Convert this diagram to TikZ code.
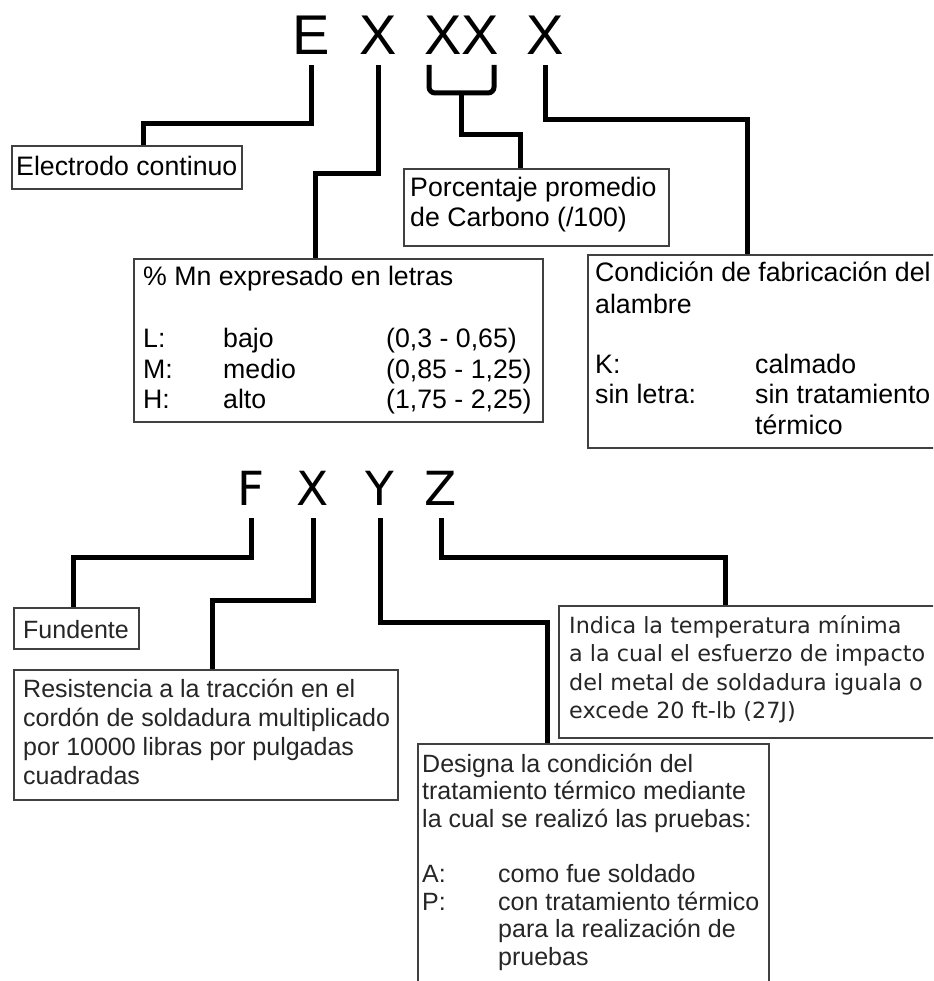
\documentclass[tikz,border=0pt]{standalone}
\usepackage{fontspec}
\setmainfont{Liberation Sans}
\newfontfamily\dejavu{DejaVu Sans}
\usetikzlibrary{calc}
\begin{document}
\begin{tikzpicture}[x=1pt,y=-1pt,
  conn/.style={line width=5pt, line join=miter, line cap=butt},
  box/.style={draw=black!75, line width=1.8pt, rectangle, inner sep=0pt, anchor=north west},
  codeA/.style={inner sep=0pt, anchor=base, font=\fontsize{56}{60}\selectfont},
  codeB/.style={inner sep=0pt, anchor=base, font=\dejavu\fontsize{47}{50}\selectfont},
  txtA/.style={inner sep=0pt, anchor=base west, font=\fontsize{26.7}{30.7}\selectfont},
  txtB/.style={inner sep=0pt, anchor=base west, text=black!85, font=\fontsize{25}{29}\selectfont},
  txtC/.style={inner sep=0pt, anchor=base west, text=black!85, font=\dejavu\fontsize{22.3}{28.5}\selectfont}
]
\clip (0,0) rectangle (933,981);
\fill[white] (0,0) rectangle (933,981);

% ---------- electrode designation E X XX X ----------
\node[codeA] (E)  at (311,55)   {E};
\node[codeA] (X1) at (378,55)   {X};
\node[codeA] (XX) at (461.5,55) {XX};
\node[codeA] (X3) at (545.5,55) {X};

\node[box, minimum width=230pt, minimum height=43pt]  (elec) at (11,145)  {};
\node[box, minimum width=265pt, minimum height=77pt]  (porc) at (403,168) {};
\node[box, minimum width=409pt, minimum height=163pt] (mn)   at (133,258) {};
\node[box, minimum width=363pt, minimum height=193pt] (cond) at (587,254) {};

\node[txtA] (elecT) at (16,176) {Electrodo continuo};

\node[txtA] (porc1) at (410,197) {Porcentaje promedio};
\node[txtA] (porc2) at (410,227) {de Carbono (/100)};

\node[txtA] (mnT) at (143,285) {\% Mn expresado en letras};
\node[txtA] (mnL1) at (143,347) {L:};
\node[txtA] (mnL2) at (223,347) {bajo};
\node[txtA] (mnL3) at (386,347) {(0,3 - 0,65)};
\node[txtA] (mnM1) at (143,378) {M:};
\node[txtA] (mnM2) at (223,378) {medio};
\node[txtA] (mnM3) at (386,378) {(0,85 - 1,25)};
\node[txtA] (mnH1) at (143,408) {H:};
\node[txtA] (mnH2) at (223,408) {alto};
\node[txtA] (mnH3) at (386,408) {(1,75 - 2,25)};

\node[txtA] (condT1) at (595,282) {Condición de fabricación del};
\node[txtA] (condT2) at (595,313) {alambre};
\node[txtA] (condK1) at (595,373) {K:};
\node[txtA] (condK2) at (755,373) {calmado};
\node[txtA] (condS1) at (595,403) {sin letra:};
\node[txtA] (condS2) at (755,403) {sin tratamiento};
\node[txtA] (condS3) at (755,434) {térmico};

% bends of the upper connectors
\coordinate (eb) at (143,124);
\coordinate (mb) at (315,174);
\coordinate (cb) at (747,120);
\coordinate (brL) at (429,65);
\coordinate (brR) at (494,65);
\coordinate (brM) at (461.5,93);
\coordinate (pb) at (520,135);

\draw[conn] ([yshift=-10pt]E.south)  |- (eb) -- (elec.north -| eb);
\draw[conn] ([yshift=-10pt]X1.south) |- (mb) -- (mn.north -| mb);
\draw[conn, rounded corners=6pt] (brL) |- (brM) -| (brR);
\draw[conn] (brM) |- (pb) -- (porc.north -| pb);
\draw[conn] ([yshift=-10pt]X3.south) |- (cb) -- (cond.north -| cb);

% ---------- flux designation F X Y Z ----------
\node[codeB] (F)  at (251,505) {F};
\node[codeB] (X2) at (313,505) {X};
\node[codeB] (Y)  at (380,505) {Y};
\node[codeB] (Z)  at (441,505) {Z};

\node[box, minimum width=125pt, minimum height=41pt]  (fund) at (13,607)  {};
\node[box, minimum width=384pt, minimum height=130pt] (res)  at (13,669)  {};
\node[box, minimum width=392pt, minimum height=132pt] (ind)  at (558,605) {};
\node[box, minimum width=351pt, minimum height=260pt] (des)  at (417,743) {};

\node[txtB] (fundT) at (23,638) {Fundente};

\node[txtB] (res1) at (23,697)   {Resistencia a la tracción en el};
\node[txtB] (res2) at (23,726.2) {cordón de soldadura multiplicado};
\node[txtB] (res3) at (23,755.4) {por 10000 libras por pulgadas};
\node[txtB] (res4) at (23,784.6) {cuadradas};

\node[txtC] (ind1) at (569,633)   {Indica la temperatura mínima};
\node[txtC] (ind2) at (569,661.5) {a la cual el esfuerzo de impacto};
\node[txtC] (ind3) at (569,690)   {del metal de soldadura iguala o};
\node[txtC] (ind4) at (569,718.5) {excede 20 ft-lb (27J)};

\node[txtB] (des1) at (422,772)   {Designa la condición del};
\node[txtB] (des2) at (422,799.6) {tratamiento térmico mediante};
\node[txtB] (des3) at (422,827.2) {la cual se realizó las pruebas:};
\node[txtB] (desA1) at (422,882.4) {A:};
\node[txtB] (desA2) at (498,882.4) {como fue soldado};
\node[txtB] (desP1) at (422,910)   {P:};
\node[txtB] (desP2) at (498,910)   {con tratamiento térmico};
\node[txtB] (desP3) at (498,937.6) {para la realización de};
\node[txtB] (desP4) at (498,965.2) {pruebas};

% bends of the lower connectors
\coordinate (fb) at (73,557);
\coordinate (rb) at (212,600);
\coordinate (db) at (547,622);
\coordinate (ib) at (725,557);

\draw[conn] ([yshift=-13pt]F.south)  |- (fb) -- (fund.north -| fb);
\draw[conn] ([yshift=-13pt]X2.south) |- (rb) -- (res.north -| rb);
\draw[conn] ([yshift=-13pt]Y.south)  |- (db) -- (des.north -| db);
\draw[conn] ([yshift=-13pt]Z.south)  |- (ib) -- (ind.north -| ib);
\end{tikzpicture}
\end{document}
